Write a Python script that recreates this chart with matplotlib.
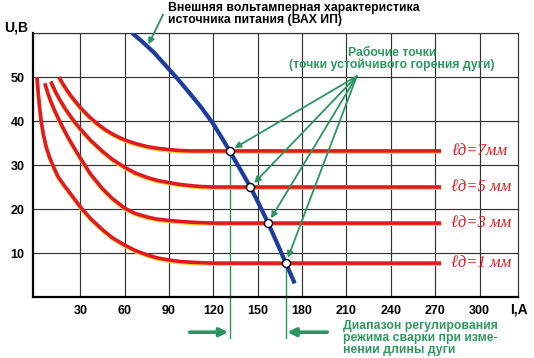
import matplotlib
matplotlib.use("Agg")
import matplotlib.pyplot as plt
import matplotlib.patheffects as pe

plt.rcParams['font.family'] = ['Liberation Sans', 'DejaVu Sans']

# ---- data ----
I_1mm = [0.7, 1.5, 2.5, 3.5, 5, 7, 9.5, 12, 15, 19, 24, 30, 37, 45, 52, 60, 67, 75, 82, 90, 97, 105, 112, 120, 274]
U_1mm = [50, 46.5, 43, 40, 37, 34, 31.5, 29.5, 27.3, 25.4, 23.2, 20.5, 17.8, 15.3, 13.4, 11.8, 10.6, 9.6, 8.9, 8.4, 8.1, 7.9, 7.8, 7.7, 7.7]
I_3mm = [6, 8, 10, 13, 16, 19, 22, 26, 30, 37, 45, 52, 60, 67, 75, 82, 90, 97, 105, 112, 120, 274]
U_3mm = [48.6, 46.4, 44.5, 42.1, 40, 38, 36.1, 33.8, 31.6, 27.9, 24.6, 22.3, 20.2, 19, 18.2, 17.7, 17.4, 17.2, 17, 16.9, 16.8, 16.8]
I_5mm = [10, 13, 16, 20, 25, 30, 37, 45, 52, 60, 67, 75, 82, 90, 97, 105, 112, 120, 274]
U_5mm = [49, 46.8, 44.9, 42.7, 40.3, 38.2, 35.6, 33.1, 31.2, 29.5, 28.2, 27.2, 26.5, 26, 25.6, 25.3, 25.1, 25, 25]
I_7mm = [15.5, 19, 23, 27, 31, 36, 41, 47, 53, 60, 67, 75, 82, 90, 97, 105, 274]
U_7mm = [50, 48, 46, 44.3, 42.7, 41, 39.5, 38, 36.8, 35.7, 34.9, 34.2, 33.8, 33.5, 33.3, 33.2, 33.2]

I_src = [65, 72, 80, 88, 96, 104, 112, 120, 128, 131, 138, 145, 151, 157, 163, 169, 175]
U_src = [60, 58, 55.5, 52.5, 49.5, 46.3, 43, 39.3, 34.9, 33.2, 29.1, 25, 21, 16.8, 12.3, 7.7, 3.1]

I_work = [131, 145, 157, 169]
U_work = [33.2, 25, 16.8, 7.7]

arc_labels = ["ℓд=7мм", "ℓд=5 мм", "ℓд=3 мм", "ℓд=1 мм"]
arc_levels = [33.2, 25, 16.8, 7.7]

x_ticks = [30, 60, 90, 120, 150, 180, 210, 240, 270, 300]
y_ticks = [10, 20, 30, 40, 50]

RED = '#e01a22'
BLUE = '#1d3c9e'
GREEN = '#2a9560'
GTEXT = '#2c9a5e'

W, H = 534, 358
fig = plt.figure(figsize=(W / 100, H / 100), dpi=100)
ax = fig.add_axes([33 / W, (H - 297) / H, (518 - 33) / W, (297 - 33) / H])
ax.set_xlim(-2, 326)
ax.set_ylim(0, 60)

ax.set_xticks(x_ticks)
ax.set_yticks(y_ticks)
ax.set_yticks([60], minor=True)
ax.grid(True, which='both', color='#333333', lw=0.85)
ax.tick_params(length=0, labelsize=9, pad=6)
ax.tick_params(which='minor', length=0)
for lab in ax.get_xticklabels() + ax.get_yticklabels():
    lab.set_fontweight('bold')
for s in ['left', 'bottom']:
    ax.spines[s].set_linewidth(1.6)
    ax.spines[s].set_color('black')
for s in ['top', 'right']:
    ax.spines[s].set_linewidth(0.85)
    ax.spines[s].set_color('#333333')
ax.set_axisbelow(True)

shadow = [pe.SimpleLineShadow(offset=(0, -0.8), shadow_color='#f2d23a', alpha=1.0),
          pe.Normal()]
for I, U in [(I_1mm, U_1mm), (I_3mm, U_3mm), (I_5mm, U_5mm), (I_7mm, U_7mm)]:
    ax.plot(I, U, color=RED, lw=2.6, solid_capstyle='butt', solid_joinstyle='round',
            path_effects=shadow, zorder=3)

ax.plot(I_src, U_src, color=BLUE, lw=3.0, solid_capstyle='butt', solid_joinstyle='round', zorder=4)

# green guide lines to the range arrows
for k in [0, len(I_work) - 1]:
    ax.plot([I_work[k], I_work[k]], [U_work[k], -9.3], color=GREEN, lw=1.0,
            clip_on=False, zorder=2)

# pointers from the "working points" label
apex = (217, 50.2)
for i, u in zip(I_work, U_work):
    ax.annotate('', xy=(i, u), xytext=apex,
                arrowprops=dict(arrowstyle='-|>', color=GREEN, lw=1.3,
                                mutation_scale=9, shrinkA=0, shrinkB=4),
                zorder=5)

ax.plot(I_work, U_work, 'o', ms=5.8, mfc='white', mec='black', mew=1.0, zorder=6)

# pointer to the source characteristic
ax.annotate('', xy=(76, 57.4), xytext=(86, 64.2),
            arrowprops=dict(arrowstyle='-|>', color=GREEN, lw=1.3,
                            mutation_scale=9, shrinkA=0, shrinkB=0),
            annotation_clip=False, zorder=5)

# range arrows below the axis
ax.annotate('', xy=(130, -8), xytext=(104, -8),
            arrowprops=dict(arrowstyle='-|>', color=GREEN, lw=2.6,
                            mutation_scale=12, shrinkA=0, shrinkB=0),
            annotation_clip=False)
ax.annotate('', xy=(170, -8), xytext=(197, -8),
            arrowprops=dict(arrowstyle='-|>', color=GREEN, lw=2.6,
                            mutation_scale=12, shrinkA=0, shrinkB=0),
            annotation_clip=False)

for lab, lev in zip(arc_labels, arc_levels):
    ax.text(281, lev, lab, color=RED, fontsize=12, style='italic',
            family=['Liberation Serif', 'DejaVu Serif'], va='center', ha='left', zorder=5)

fig.text(16 / W, 1 - 27 / H, 'U,B', fontsize=10, fontweight='bold', ha='center', va='center')
fig.text(519 / W, 1 - 310 / H, 'I,A', fontsize=10, fontweight='bold', ha='center', va='center')

fig.text(168 / W, 1 - 14 / H,
         'Внешняя вольтамперная характеристика\nисточника питания (ВАХ ИП)',
         fontsize=8.8, fontweight='bold', ha='left', va='center', linespacing=1.0)
fig.text(392 / W, 1 - 59 / H,
         'Рабочие точки\n(точки устойчивого горения дуги)',
         fontsize=8.8, fontweight='bold', color=GTEXT, ha='center', va='center',
         multialignment='center', linespacing=1.05)
fig.text(343 / W, 1 - 338 / H,
         'Диапазон регулирования\nрежима сварки при изме-\nнении длины дуги',
         fontsize=8.8, fontweight='bold', color=GTEXT, ha='left', va='center',
         linespacing=1.0)

fig.savefig('out.png', dpi=100, facecolor='white')
